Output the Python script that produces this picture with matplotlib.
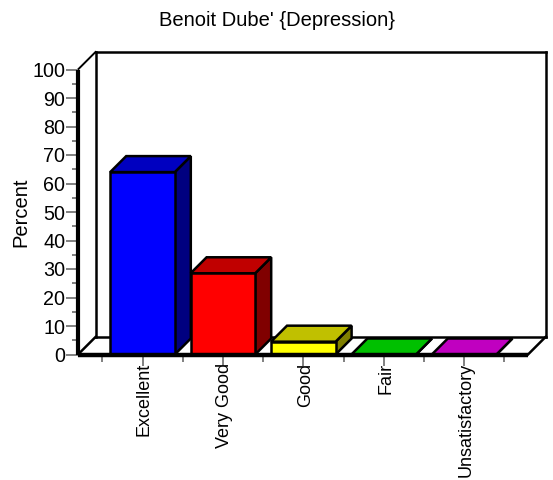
import matplotlib
matplotlib.use("Agg")
import matplotlib.pyplot as plt
from matplotlib.patches import Polygon
from matplotlib.transforms import ScaledTranslation

plt.rcParams['font.family'] = ['Liberation Sans', 'DejaVu Sans']

title = "Benoit Dube' {Depression}"
categories = ["Excellent", "Very Good", "Good", "Fair", "Unsatisfactory"]
values = [64, 28.5, 4.5, 0, 0]
front_colors = ["#0000ff", "#ff0000", "#ffff00", "#00ff00", "#ff00ff"]
top_colors = ["#0000c0", "#c00000", "#c0c000", "#00c000", "#c000c0"]
side_colors = ["#000080", "#800000", "#808000", "#008000", "#800080"]

W, H = 553, 480
fig = plt.figure(figsize=(W / 100, H / 100), dpi=100)
L, R, T, B = 78, 528, 69.5, 354.5
ax = fig.add_axes([L / W, 1 - B / H, (R - L) / W, (B - T) / H])
pxx = 80.4
x0 = (L - 142.5) / pxx
ax.set_xlim(x0, x0 + (R - L) / pxx)
ax.set_ylim(0, 100)
ppy = (B - T) / 100
dx = 17.5 / pxx
dy = 17.5 / ppy
bdx = 16 / pxx
bdy = 16 / ppy
hw = 32.3 / pxx
xa, xb = ax.get_xlim()
for s in ax.spines.values():
    s.set_visible(False)
ax.patch.set_visible(False)

k = dict(color="black", clip_on=False, solid_capstyle="projecting")
# wall frame
ax.plot([xa + dx, xa + dx], [dy, 100 + dy], lw=1.8, zorder=1, **k)
ax.plot([xa + dx, xb + dx], [100 + dy, 100 + dy], lw=1.8, zorder=1, **k)
ax.plot([xb + dx, xb + dx], [dy, 100 + dy], lw=1.8, zorder=1, **k)
ax.plot([xa + dx, xb + dx], [dy, dy], lw=1.8, zorder=1, **k)
ax.plot([xa, xa + dx], [100, 100 + dy], lw=1.4, zorder=1, **k)
ax.plot([xa, xa + dx], [0, dy], lw=1.8, zorder=1, **k)
ax.plot([xb, xb + dx], [0, dy], lw=1.8, zorder=1, **k)

for i, v in enumerate(values):
    a, b = i - hw, i + hw
    e = dict(edgecolor="black", linewidth=1.8, clip_on=False, joinstyle="miter", zorder=3)
    ax.add_patch(Polygon([(b, 0), (b + bdx, bdy), (b + bdx, v + bdy), (b, v)], facecolor=side_colors[i], **e))
    ax.add_patch(Polygon([(a, v), (a + bdx, v + bdy), (b + bdx, v + bdy), (b, v)], facecolor=top_colors[i], **e))
    ax.add_patch(Polygon([(a, 0), (b, 0), (b, v), (a, v)], facecolor=front_colors[i], **e))

# front axes
ax.plot([xa, xa], [0, 100], lw=3, zorder=4, color="black", clip_on=False, solid_capstyle="butt")
ax.plot([xa, xb], [0, 0], lw=3.2, zorder=4, color="black", clip_on=False, solid_capstyle="butt")

ax.set_yticks(range(0, 101, 10))
ax.set_yticks(range(5, 100, 10), minor=True)
ax.set_xticks(range(len(categories)))
ax.set_xticklabels(categories, rotation=90, fontsize=13)
ax.set_xticks([i - 0.5 for i in range(len(categories) + 1)], minor=True)
ax.tick_params(axis="y", which="major", length=8.5, width=1.4, color="#808080", labelsize=14.2, pad=0.5)
ax.tick_params(axis="y", which="minor", length=4.5, width=1.4, color="#808080")
ax.tick_params(axis="x", which="major", length=8, width=1.4, color="#808080", pad=-2.3)
ax.tick_params(axis="x", which="minor", length=5, width=1.4, color="#808080")
shift = ScaledTranslation(2 / 100, 0, fig.dpi_scale_trans)
for lab in ax.get_xticklabels():
    lab.set_transform(lab.get_transform() + shift)
ax.set_ylabel("Percent", fontsize=14.5, va="center")
ax.yaxis.set_label_coords((20.5 - L) / (R - L), 0.5)
fig.text(277 / W, 1 - 21 / H, title, fontsize=14.5, ha="center", va="center")
fig.savefig("out.png", dpi=100)
